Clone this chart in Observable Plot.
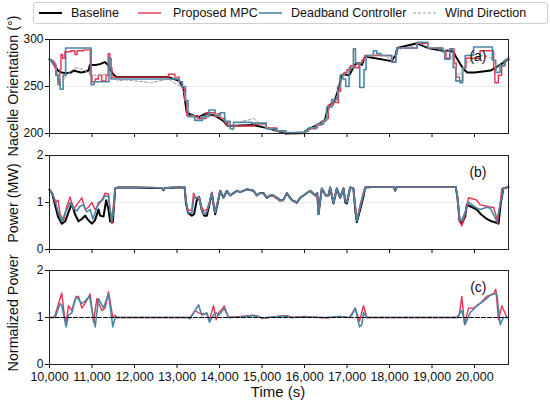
<!DOCTYPE html>
<html>
<head>
<meta charset="utf-8">
<script src="https://cdn.jsdelivr.net/npm/d3@7"></script>
<script src="https://cdn.jsdelivr.net/npm/@observablehq/plot@0.6"></script>
<style>
  html, body { margin: 0; padding: 0; background: #fff; }
  #wrap { position: relative; width: 550px; height: 404px; font-family: "Liberation Sans", Arial, sans-serif; overflow: hidden; }
  .abs { position: absolute; }
  #legend { left: 33px; top: 2px; width: 515px; height: 22px; border: 1px solid #cfcfcf; border-radius: 3px; box-sizing: border-box; font-size: 12.5px; color: #111; }
  #legend .item { position: absolute; top: 0; height: 20px; line-height: 20px; white-space: nowrap; }
  #legend svg { position: absolute; top: 0; }
</style>
</head>
<body>
<div id="wrap">
  <div id="legend" class="abs"></div>
  <div id="pa" class="abs" style="left:0;top:29px"></div>
  <div id="pb" class="abs" style="left:0;top:145px"></div>
  <div id="pc" class="abs" style="left:0;top:260px"></div>
  <svg id="labels" class="abs" width="550" height="404" style="left:0;top:0;pointer-events:none;overflow:visible"></svg>
</div>
<script>
// ---------- data (time in s) ----------
const timeDomain = [10000, 20800];
const timeTicks = [10000, 11000, 12000, 13000, 14000, 15000, 16000, 17000, 18000, 19000, 20000];

const seriesNames = ["Baseline", "Proposed MPC", "Deadband Controller", "Wind Direction"];

// (a) Nacelle orientation (deg)
const orientTicks = [200, 250, 300];
const orientBaseline = [[10000,279],[10050,277],[10100,274],[10150,270],[10200,267],[10280,265],[10400,264],[10500,265],[10580,267],[10650,266],[10750,265],[10850,266],[10920,267],[10950,273],[11100,273],[11200,274],[11300,276],[11380,273],[11440,267],[11520,262],[11580,260],[12800,260],[13050,256],[13150,248],[13230,222],[13500,217],[13680,221],[13900,219],[14100,213],[14200,208],[14800,209],[15100,206],[15350,203],[15560,200],[16000,201],[16100,205],[16300,209],[16480,214],[16560,229],[16700,234],[16800,247],[16870,262],[16950,263],[17050,262],[17100,266],[17200,274],[17300,275],[17350,273],[17430,282],[18050,277],[18150,284],[18180,291],[18650,296],[18900,291],[19250,288],[19400,288],[19500,287],[19560,282],[19650,275],[19750,268],[19830,265],[20000,265],[20200,266],[20380,267],[20500,270],[20600,273],[20700,276],[20800,279]];
const orientMPC = [[10000,278],[10060,276],[10120,270],[10160,262],[10200,252],[10240,268],[10270,284],[10310,280],[10360,287],[10500,288],[10600,284],[10650,288],[10800,289],[10960,262],[11000,255],[11080,258],[11150,262],[11230,256],[11330,262],[11380,285],[11420,270],[11470,260],[12800,263],[12950,260],[13050,255],[13130,248],[13180,235],[13230,219],[13500,216],[13680,222],[13880,218],[13950,221],[14020,216],[14130,212],[14200,208],[14800,210],[15100,206],[15350,203],[15560,200],[16000,202],[16080,205],[16270,209],[16400,213],[16500,216],[16560,230],[16680,233],[16800,245],[16850,262],[16930,265],[17000,268],[17080,272],[17200,270],[17280,275],[17350,278],[17420,283],[18050,276],[18150,284],[18170,291],[18650,296],[18900,291],[19250,288],[19330,280],[19420,290],[19520,275],[19570,260],[19650,256],[19720,270],[19800,280],[20130,288],[20450,270],[20480,254],[20560,262],[20640,272],[20720,278],[20800,280]];
const orientDeadband = [[10000,278],[10080,274],[10150,262],[10200,255],[10250,247],[10320,262],[10380,291],[10980,252],[11050,255],[11400,280],[11450,258],[13050,255],[13120,250],[13200,235],[13260,218],[13420,214],[13600,218],[13750,225],[13900,219],[14020,222],[14120,213],[14250,205],[14330,212],[14750,211],[15100,205],[15350,203],[15560,201],[16000,203],[16100,206],[16300,210],[16450,214],[16520,228],[16640,236],[16780,250],[16840,262],[16900,258],[16970,250],[17050,270],[17150,290],[17200,275],[17300,249],[17400,268],[17450,283],[17620,288],[17700,285],[17800,283],[18050,276],[18150,284],[18170,291],[18650,297],[18900,291],[19250,288],[19300,279],[19420,290],[19500,270],[19560,256],[19660,254],[19720,270],[19780,283],[19980,292],[20420,278],[20500,265],[20600,272],[20700,278],[20800,280]];
const orientWind = [[10000,279],[10150,268],[10250,258],[10300,255],[10400,262],[10600,270],[10800,268],[11000,262],[11200,262],[11400,264],[11500,260],[11600,256],[11800,257],[12000,256],[12200,255],[12400,254],[12600,256],[12800,258],[12900,255],[13000,252],[13100,250],[13200,240],[13250,225],[13400,217],[13600,218],[13800,221],[14000,220],[14150,211],[14300,203],[14400,208],[14500,213],[14650,214],[14800,216],[14900,213],[15000,208],[15200,205],[15400,202],[15600,200],[15800,199],[16000,201],[16200,206],[16400,211],[16500,215],[16600,228],[16700,236],[16800,242],[16880,258],[16950,264],[17050,268],[17200,272],[17350,276],[17500,282],[17700,284],[17900,283],[18050,278],[18150,286],[18300,291],[18500,292],[18700,296],[18900,292],[19100,291],[19300,285],[19400,288],[19500,278],[19600,262],[19700,265],[19800,275],[20000,280],[20200,283],[20400,280],[20550,270],[20650,276],[20800,282]];

// (b) Power (MW)
const powerTicks = [0, 1, 2];
const powerBaseline = [[10000,1.27],[10060,1.2],[10130,0.95],[10200,0.7],[10290,0.55],[10370,0.6],[10450,0.8],[10525,0.97],[10600,0.75],[10682,0.6],[10761,0.65],[10839,0.72],[10890,0.65],[10940,0.6],[10996,0.55],[11070,0.62],[11153,0.85],[11192,0.72],[11271,0.7],[11333,1.05],[11388,0.85],[11427,0.6],[11490,0.58],[11545,1.3],[11620,1.32],[12000,1.32],[12400,1.31],[12650,1.31],[12680,1.26],[12720,1.31],[13000,1.32],[13180,1.32],[13210,1.0],[13260,0.78],[13349,0.72],[13400,0.75],[13467,1.05],[13520,1.12],[13580,0.85],[13640,0.72],[13702,0.72],[13760,0.95],[13820,1.2],[13870,0.9],[13898,0.75],[13960,1.0],[14016,1.25],[14094,1.1],[14173,1.25],[14251,1.15],[14329,1.2],[14408,1.25],[14486,1.22],[14643,1.28],[14800,1.25],[14878,1.15],[14950,1.2],[15035,1.2],[15114,1.1],[15200,1.15],[15271,1.15],[15427,1.05],[15500,1.05],[15584,1.2],[15702,1.05],[15820,1.0],[15900,1.1],[15976,1.15],[16133,1.25],[16251,1.15],[16300,1.2],[16329,0.75],[16408,1.3],[16500,1.15],[16565,1.15],[16604,1.32],[16682,0.98],[16761,1.3],[16839,1.1],[16918,1.3],[16960,1.0],[16996,0.98],[17075,1.32],[17150,1.3],[17200,0.8],[17231,0.58],[17310,0.85],[17380,1.1],[17427,1.32],[17600,1.33],[18100,1.33],[18133,1.25],[18170,1.33],[19560,1.33],[19600,1.1],[19650,0.6],[19702,0.55],[19780,0.7],[19820,0.95],[19900,0.92],[20055,0.85],[20150,0.75],[20290,0.65],[20400,0.6],[20480,0.58],[20565,0.55],[20620,1.0],[20682,1.3],[20800,1.33]];
const powerMPC = [[10000,1.27],[10060,1.22],[10133,1.0],[10200,1.05],[10250,0.75],[10329,0.6],[10400,0.9],[10486,1.12],[10565,0.85],[10640,0.95],[10761,1.1],[10839,0.85],[10918,0.9],[10996,1.0],[11070,0.85],[11153,0.95],[11230,1.05],[11310,1.2],[11388,1.18],[11430,0.8],[11467,0.55],[11520,0.9],[11545,1.3],[11620,1.32],[12000,1.32],[12400,1.32],[12650,1.31],[12680,1.27],[12720,1.31],[13000,1.33],[13180,1.33],[13210,1.05],[13260,0.82],[13349,0.85],[13388,1.2],[13440,1.1],[13500,1.12],[13580,0.9],[13640,0.82],[13702,0.85],[13760,1.0],[13820,1.22],[13870,0.9],[13898,0.8],[13960,1.05],[14016,1.25],[14094,1.1],[14173,1.25],[14251,1.15],[14329,1.2],[14408,1.25],[14486,1.22],[14643,1.28],[14800,1.25],[14878,1.15],[14950,1.2],[15035,1.18],[15114,1.1],[15200,1.15],[15271,1.13],[15427,1.03],[15500,1.05],[15584,1.2],[15702,1.05],[15820,0.98],[15900,1.1],[15976,1.15],[16133,1.25],[16251,1.15],[16300,1.2],[16329,0.78],[16408,1.3],[16500,1.15],[16565,1.15],[16604,1.32],[16682,1.0],[16761,1.3],[16839,1.1],[16918,1.3],[16960,1.05],[16996,1.02],[17075,1.32],[17150,1.3],[17200,0.9],[17231,0.62],[17310,0.95],[17380,1.2],[17427,1.32],[17600,1.33],[18100,1.33],[18133,1.25],[18170,1.33],[19560,1.33],[19600,1.1],[19650,0.6],[19702,0.5],[19780,0.75],[19859,1.1],[19950,1.08],[20055,1.05],[20133,0.95],[20290,0.92],[20369,0.9],[20447,0.9],[20500,0.75],[20540,0.55],[20600,0.95],[20643,1.3],[20800,1.33]];
const powerDeadband = [[10000,1.27],[10060,1.2],[10133,1.05],[10200,0.8],[10290,0.6],[10380,0.8],[10486,1.0],[10565,0.88],[10643,0.82],[10720,0.92],[10800,0.95],[10878,0.8],[10957,0.85],[11020,0.65],[11100,0.85],[11153,1.0],[11250,1.05],[11310,1.15],[11388,1.12],[11467,0.6],[11545,1.3],[11620,1.32],[12000,1.32],[12400,1.32],[12650,1.31],[12680,1.27],[12720,1.31],[13000,1.33],[13180,1.33],[13210,1.05],[13260,0.78],[13349,0.78],[13400,1.1],[13467,1.08],[13520,1.12],[13580,0.85],[13640,0.75],[13702,0.8],[13760,0.98],[13820,1.2],[13870,0.9],[13898,0.78],[13960,1.02],[14016,1.25],[14094,1.1],[14173,1.25],[14251,1.15],[14329,1.2],[14408,1.25],[14486,1.22],[14643,1.28],[14800,1.25],[14878,1.15],[14950,1.2],[15035,1.2],[15114,1.1],[15200,1.15],[15271,1.15],[15427,1.05],[15500,1.05],[15584,1.2],[15702,1.05],[15820,1.0],[15900,1.1],[15976,1.15],[16133,1.25],[16251,1.15],[16300,1.2],[16329,0.75],[16408,1.3],[16500,1.15],[16565,1.15],[16604,1.32],[16682,0.98],[16761,1.3],[16839,1.1],[16918,1.3],[16960,1.02],[16996,1.0],[17075,1.32],[17150,1.3],[17200,0.85],[17231,0.6],[17310,0.9],[17380,1.15],[17427,1.32],[17600,1.33],[18100,1.33],[18133,1.25],[18170,1.33],[19560,1.33],[19600,1.1],[19650,0.65],[19702,0.62],[19780,0.8],[19859,1.0],[19950,0.95],[20055,0.88],[20133,0.85],[20290,0.9],[20369,0.88],[20447,0.75],[20525,0.6],[20600,0.95],[20682,1.3],[20800,1.33]];

// (c) Normalized power
const normTicks = [0, 1, 2];
const normBaseline = [[10000,1],[20800,1]];
const normMPC = [[10000,1.0],[10094,1.0],[10133,1.05],[10212,1.3],[10290,1.52],[10329,1.2],[10384,0.85],[10447,1.25],[10525,1.15],[10604,1.4],[10682,1.45],[10761,1.2],[10839,1.3],[10957,1.5],[11035,0.9],[11114,1.4],[11231,1.15],[11310,1.2],[11388,1.55],[11490,1.0],[11545,1.05],[11584,1.0],[13250,1.0],[13310,1.0],[13427,1.15],[13506,1.1],[13584,1.08],[13702,1.08],[13765,0.95],[13859,1.25],[13922,0.95],[13976,1.1],[14078,1.2],[14110,1.25],[14212,1.0],[14500,1.02],[14800,1.05],[14900,1.03],[15000,0.98],[15500,1.04],[15600,1.04],[15700,1.0],[16000,1.02],[16500,0.99],[16850,1.02],[17050,1.0],[17114,1.08],[17192,1.2],[17294,0.92],[17388,1.25],[17467,1.0],[19584,1.0],[19640,1.05],[19702,1.45],[19765,0.85],[19859,1.2],[19976,1.2],[20133,1.3],[20290,1.45],[20447,1.5],[20502,1.6],[20565,0.95],[20643,1.25],[20761,1.0],[20800,1.0]];
const normDeadband = [[10000,1.0],[10133,1.0],[10251,1.3],[10290,1.25],[10392,0.8],[10447,1.05],[10525,1.1],[10627,1.45],[10761,1.3],[10839,1.35],[10941,1.45],[11075,0.8],[11153,1.4],[11271,1.2],[11388,1.5],[11490,0.8],[11545,1.0],[13250,1.0],[13310,0.97],[13427,1.15],[13506,1.27],[13584,1.05],[13702,1.1],[13765,0.9],[13859,1.05],[13922,1.1],[13976,1.05],[14078,1.15],[14110,1.2],[14212,1.0],[14500,1.01],[14800,1.04],[14900,1.02],[15000,0.99],[15500,1.03],[15600,1.02],[15700,1.0],[16000,1.01],[16500,1.0],[16850,1.02],[17050,1.0],[17114,1.05],[17192,1.2],[17294,0.8],[17350,0.85],[17388,1.1],[17467,1.0],[19584,1.0],[19702,1.15],[19780,0.85],[19898,1.1],[20055,1.25],[20212,1.35],[20408,1.5],[20525,1.5],[20604,0.85],[20682,1.0],[20800,1.0]];

// ---------- styles ----------
const colors = { base: "#000000", mpc: "#e8344f", db: "#4a86a4", wind: "#9a9a9a" };
const FONT = "Liberation Sans, Arial, sans-serif";

function line(data, stroke, width, extra = {}) {
  return Plot.line(data, { x: d => d[0], y: d => d[1], stroke, strokeWidth: width, strokeLinejoin: "round", ...extra });
}

function panel({ el, yDomain, yTicks, marks, tag, showX }) {
  const mb = showX ? 40 : 8;
  const chart = Plot.plot({
    width: 550,
    height: 10 + 94 + mb,
    marginTop: 10,
    marginBottom: mb,
    marginLeft: 49,
    marginRight: 42,
    style: { fontFamily: FONT, fontSize: "12px", color: "#111", background: "transparent", overflow: "visible" },
    x: { domain: timeDomain },
    y: { domain: yDomain },
    marks: [
      Plot.gridY(yTicks, { stroke: "#000", strokeOpacity: 0.07 }),
      ...marks,
      Plot.frame({ stroke: "#222", strokeWidth: 1 }),
      Plot.axisY({ ticks: yTicks, tickSize: 4, tickPadding: 2, label: null, fontSize: 12, tickFormat: d => String(d) }),
      Plot.axisX({ ticks: timeTicks, tickSize: 4, tickPadding: 4, label: null, fontSize: 12.5,
        tickFormat: showX ? d3.format(",") : () => "" }),
      Plot.text([tag], { frameAnchor: "top-right", dx: -22, dy: 12, fontSize: 14, fill: "#111" })
    ]
  });
  document.getElementById(el).appendChild(chart);
}

panel({
  el: "pa", yDomain: [200, 300], yTicks: orientTicks, tag: "(a)",
  marks: [
    line(orientBaseline, colors.base, 2),
    line(orientMPC, colors.mpc, 1.4, { curve: "step-after" }),
    line(orientDeadband, colors.db, 1.6, { curve: "step-after" }),
    line(orientWind, colors.wind, 1, { strokeDasharray: "3,2" })
  ]
});
panel({
  el: "pb", yDomain: [0, 2], yTicks: powerTicks, tag: "(b)",
  marks: [
    line(powerBaseline, colors.base, 2),
    line(powerMPC, colors.mpc, 1.4),
    line(powerDeadband, colors.db, 1.6)
  ]
});
panel({
  el: "pc", yDomain: [0, 2], yTicks: normTicks, tag: "(c)", showX: true,
  marks: [
    line(normMPC, colors.mpc, 1.4),
    line(normDeadband, colors.db, 1.6),
    line(normBaseline, colors.base, 1, { strokeDasharray: "4,2" })
  ]
});

// ---------- labels ----------
const lab = d3.select("#labels");
const yLabels = [
  { text: "Nacelle Orientation (°)", y: 86 },
  { text: "Power (MW)", y: 203 },
  { text: "Normalized Power", y: 313 }
];
yLabels.forEach(l => {
  lab.append("text").attr("transform", `translate(18,${l.y}) rotate(-90)`)
    .attr("text-anchor", "middle").attr("font-family", FONT).attr("font-size", 14.3).attr("fill", "#111").text(l.text);
});
lab.append("text").attr("x", 278).attr("y", 397).attr("text-anchor", "middle")
  .attr("font-family", FONT).attr("font-size", 15).attr("fill", "#111").text("Time (s)");

// ---------- legend ----------
const legendItems = [
  { name: seriesNames[0], color: colors.base, width: 2, dash: null, lx: 5, tx: 37 },
  { name: seriesNames[1], color: colors.mpc, width: 1.4, dash: null, lx: 104, tx: 139 },
  { name: seriesNames[2], color: colors.db, width: 1.6, dash: null, lx: 225, tx: 257 },
  { name: seriesNames[3], color: colors.wind, width: 1, dash: "3,2", lx: 379, tx: 411 }
];
const leg = document.getElementById("legend");
legendItems.forEach(it => {
  const s = document.createElementNS("http://www.w3.org/2000/svg", "svg");
  s.setAttribute("width", 24); s.setAttribute("height", 20);
  s.style.left = it.lx + "px";
  const ln = document.createElementNS("http://www.w3.org/2000/svg", "line");
  ln.setAttribute("x1", 0); ln.setAttribute("x2", 23); ln.setAttribute("y1", 10); ln.setAttribute("y2", 10);
  ln.setAttribute("stroke", it.color); ln.setAttribute("stroke-width", it.width);
  if (it.dash) ln.setAttribute("stroke-dasharray", it.dash);
  s.appendChild(ln);
  leg.appendChild(s);
  const t = document.createElement("div");
  t.className = "item"; t.style.left = it.tx + "px"; t.textContent = it.name;
  leg.appendChild(t);
});
</script>
</body>
</html>
